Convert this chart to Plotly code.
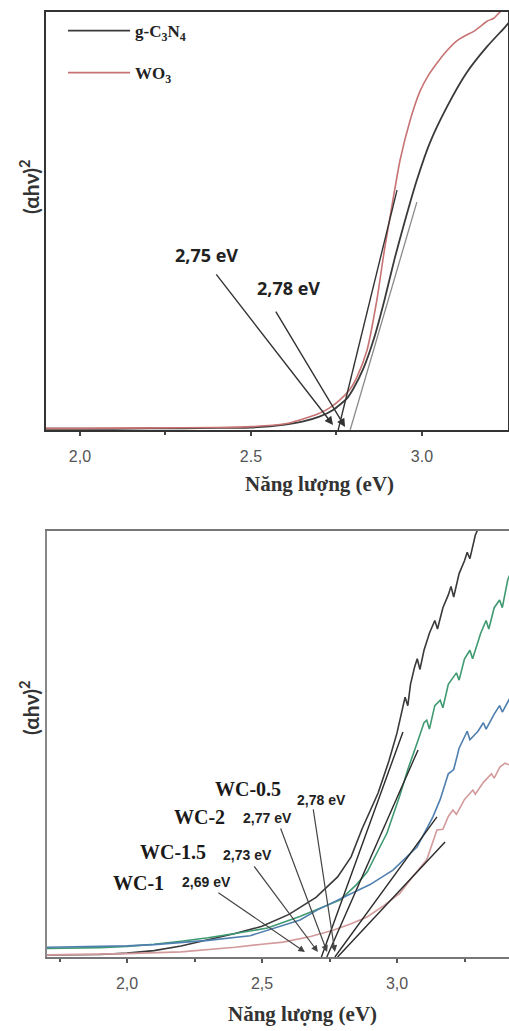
import plotly.graph_objects as go

W, H = 509, 1031

# ---------------- Top panel data ----------------
gcn_E = [1.90, 2.00, 2.10, 2.20, 2.30, 2.40, 2.50, 2.60, 2.65, 2.70, 2.74, 2.78, 2.80, 2.83,
         2.86, 2.89, 2.92, 2.95, 2.985, 3.023, 3.073, 3.13, 3.19, 3.243, 3.26]
gcn_V = [0.003, 0.003, 0.003, 0.004, 0.004, 0.005, 0.006, 0.013, 0.020, 0.032, 0.048, 0.075, 0.10, 0.15,
         0.22, 0.31, 0.41, 0.50, 0.598, 0.687, 0.773, 0.854, 0.917, 0.964, 0.98]

wo3_E = [1.90, 2.00, 2.20, 2.40, 2.50, 2.60, 2.643, 2.70, 2.73, 2.76, 2.79, 2.81, 2.839, 2.868,
         2.89, 2.915, 2.936, 2.965, 2.994, 3.02, 3.044, 3.07, 3.10, 3.13, 3.15, 3.17, 3.19, 3.21, 3.228, 3.25]
wo3_V = [0.004, 0.004, 0.005, 0.006, 0.008, 0.015, 0.024, 0.040, 0.053, 0.072, 0.098, 0.127, 0.19, 0.311,
         0.43, 0.55, 0.646, 0.74, 0.81, 0.85, 0.878, 0.905, 0.93, 0.945, 0.953, 0.965, 0.978, 0.985, 1.0, 1.01]

top_tan_wo3_E = [2.755, 2.927]
top_tan_wo3_V = [0.0, 0.574]
top_tan_gcn_E = [2.79, 2.985]
top_tan_gcn_V = [0.0, 0.545]

top_labels = ["2,75 eV", "2,78 eV"]
top_label_E = [2.371, 2.611]
top_label_V = [0.419, 0.340]
top_arrow_tail_E = [2.395, 2.57]
top_arrow_tail_V = [0.376, 0.287]
top_arrow_head_E = [2.74, 2.775]
top_arrow_head_V = [0.012, 0.007]

top_tickvals = [2.0, 2.5, 3.0]
top_ticktext = ["2,0", "2.5", "3.0"]
top_minor = [2.25, 2.75]

# ---------------- Bottom panel data ----------------
k_E = [1.70, 1.90, 2.00, 2.10, 2.20, 2.30, 2.40, 2.50, 2.60, 2.70, 2.78, 2.83, 2.87, 2.93, 2.97, 3.00,
       3.02, 3.03, 3.04, 3.05, 3.065, 3.075, 3.085, 3.10, 3.12, 3.14, 3.15, 3.17, 3.19, 3.20, 3.21,
       3.23, 3.25, 3.26, 3.27, 3.29, 3.31]
k_V = [0.005, 0.006, 0.009, 0.015, 0.026, 0.040, 0.055, 0.072, 0.100, 0.140, 0.188, 0.235, 0.300, 0.385, 0.460, 0.526,
       0.580, 0.610, 0.590, 0.640, 0.680, 0.700, 0.675, 0.720, 0.760, 0.790, 0.770, 0.820, 0.850, 0.870, 0.845,
       0.900, 0.930, 0.950, 0.935, 0.990, 1.02]

g_E = [1.70, 1.90, 2.00, 2.10, 2.20, 2.30, 2.40, 2.52, 2.64, 2.70, 2.79, 2.85, 2.89, 2.93, 2.963, 3.011,
       3.04, 3.078, 3.10, 3.11, 3.12, 3.14, 3.16, 3.17, 3.19, 3.22, 3.23, 3.25, 3.27, 3.28, 3.31, 3.33,
       3.34, 3.36, 3.38, 3.39, 3.41, 3.42]
g_V = [0.020, 0.022, 0.025, 0.030, 0.037, 0.045, 0.055, 0.068, 0.095, 0.110, 0.134, 0.170, 0.200, 0.250, 0.291, 0.380,
       0.440, 0.509, 0.550, 0.556, 0.535, 0.590, 0.603, 0.585, 0.640, 0.667, 0.650, 0.700, 0.720, 0.700, 0.760, 0.790,
       0.770, 0.820, 0.838, 0.820, 0.885, 0.90]

b_E = [1.70, 1.90, 2.00, 2.10, 2.20, 2.30, 2.456, 2.556, 2.641, 2.704, 2.83, 2.90, 2.985, 3.074, 3.133,
       3.16, 3.19, 3.21, 3.23, 3.26, 3.27, 3.30, 3.32, 3.33, 3.36, 3.38, 3.39, 3.42]
b_V = [0.023, 0.024, 0.026, 0.029, 0.034, 0.039, 0.050, 0.070, 0.087, 0.110, 0.148, 0.170, 0.204, 0.258, 0.329,
       0.370, 0.430, 0.440, 0.490, 0.530, 0.510, 0.530, 0.550, 0.535, 0.570, 0.590, 0.575, 0.61]

p_E = [1.70, 1.90, 2.00, 2.20, 2.30, 2.40, 2.50, 2.578, 2.68, 2.763, 2.83, 2.889, 2.95, 3.011, 3.06, 3.11,
       3.148, 3.17, 3.19, 3.207, 3.22, 3.25, 3.281, 3.29, 3.32, 3.35, 3.36, 3.381, 3.40, 3.42]
p_V = [0.005, 0.006, 0.008, 0.012, 0.017, 0.023, 0.030, 0.035, 0.048, 0.063, 0.078, 0.094, 0.120, 0.150, 0.190, 0.228,
       0.298, 0.300, 0.330, 0.345, 0.335, 0.370, 0.392, 0.382, 0.410, 0.430, 0.420, 0.446, 0.455, 0.45]

bot_tan_E = [[2.72, 3.022], [2.74, 3.078], [2.77, 3.148], [2.78, 3.178]]
bot_tan_V = [[0.0, 0.528], [0.0, 0.486], [0.0, 0.329], [0.0, 0.270]]

sample_names = ["WC-1", "WC-1.5", "WC-2", "WC-0.5"]
sample_E = [2.041, 2.17, 2.27, 2.448]
sample_V = [0.174, 0.246, 0.329, 0.394]
gap_labels = ["2,69 eV", "2,73 eV", "2,77 eV", "2,78 eV"]
gap_E = [2.293, 2.448, 2.522, 2.722]
gap_V = [0.176, 0.239, 0.326, 0.369]
bot_tail_E = [2.333, 2.467, 2.567, 2.689]
bot_tail_V = [0.153, 0.216, 0.305, 0.350]
bot_head_E = [2.659, 2.707, 2.741, 2.77]
bot_head_V = [0.012, 0.012, 0.012, 0.012]

bot_tickvals = [2.0, 2.5, 3.0]
bot_ticktext = ["2,0", "2,5", "3,0"]
bot_minor = [1.75, 2.25, 2.75, 3.25]

SERIF = "Liberation Serif, Times New Roman, serif"
SANS = "Liberation Sans, Arial, sans-serif"

fig = go.Figure()

# top traces
fig.add_trace(go.Scatter(x=gcn_E, y=gcn_V, mode="lines", name="g-C<sub>3</sub>N<sub>4</sub>",
                         line=dict(color="#3a3a3a", width=1.8, shape="spline", smoothing=0.6),
                         xaxis="x", yaxis="y", legendgroup="a"))
fig.add_trace(go.Scatter(x=wo3_E, y=wo3_V, mode="lines", name="WO<sub>3</sub>",
                         line=dict(color="#c87373", width=1.6, shape="spline", smoothing=0.6),
                         xaxis="x", yaxis="y", legendgroup="b"))
fig.add_trace(go.Scatter(x=top_tan_wo3_E, y=top_tan_wo3_V, mode="lines", showlegend=False,
                         line=dict(color="#333333", width=1.4), xaxis="x", yaxis="y"))
fig.add_trace(go.Scatter(x=top_tan_gcn_E, y=top_tan_gcn_V, mode="lines", showlegend=False,
                         line=dict(color="#8a8a8a", width=1.3), xaxis="x", yaxis="y"))

# bottom traces
for xs, ys, col in [(k_E, k_V, "#3a3a3a"), (g_E, g_V, "#3f9a72"), (b_E, b_V, "#4f7fae"), (p_E, p_V, "#d29a9a")]:
    fig.add_trace(go.Scatter(x=xs, y=ys, mode="lines", showlegend=False,
                             line=dict(color=col, width=1.6), xaxis="x2", yaxis="y2"))
for xs, ys in zip(bot_tan_E, bot_tan_V):
    fig.add_trace(go.Scatter(x=xs, y=ys, mode="lines", showlegend=False,
                             line=dict(color="#2a2a2a", width=1.4), xaxis="x2", yaxis="y2"))

ann = []
for t, ex, vy in zip(top_labels, top_label_E, top_label_V):
    ann.append(dict(x=ex, y=vy, xref="x", yref="y", text="<b>" + t + "</b>", showarrow=False,
                    font=dict(family="Open Sans, " + SANS, size=18, color="#222"), xanchor="center", yanchor="middle"))
for tx, ty, hx, hy in zip(top_arrow_tail_E, top_arrow_tail_V, top_arrow_head_E, top_arrow_head_V):
    ann.append(dict(x=hx, y=hy, ax=tx, ay=ty, xref="x", yref="y", axref="x", ayref="y", text="",
                    showarrow=True, arrowhead=2, arrowsize=1.2, arrowwidth=1.4, arrowcolor="#333"))
for t, ex, vy in zip(sample_names, sample_E, sample_V):
    ann.append(dict(x=ex, y=vy, xref="x2", yref="y2", text="<b>" + t + "</b>", showarrow=False,
                    font=dict(family=SERIF, size=20, color="#1a1a1a"), xanchor="center", yanchor="middle"))
for t, ex, vy in zip(gap_labels, gap_E, gap_V):
    ann.append(dict(x=ex, y=vy, xref="x2", yref="y2", text="<b>" + t + "</b>", showarrow=False,
                    font=dict(family="Liberation Sans Narrow, " + SANS, size=14, color="#222"),
                    xanchor="center", yanchor="middle"))
for tx, ty, hx, hy in zip(bot_tail_E, bot_tail_V, bot_head_E, bot_head_V):
    ann.append(dict(x=hx, y=hy, ax=tx, ay=ty, xref="x2", yref="y2", axref="x2", ayref="y2", text="",
                    showarrow=True, arrowhead=2, arrowsize=1.1, arrowwidth=1.2, arrowcolor="#444"))

# axis titles
for yy in [187, 708]:
    ann.append(dict(x=29 / W, y=1 - yy / H, xref="paper", yref="paper", text="<b>(αhν)<sup>2</sup></b>",
                    textangle=-90, showarrow=False, font=dict(family="Lato, " + SANS, size=21, color="#333"),
                    xanchor="center", yanchor="middle"))
for xx, yy in [(319, 484), (302, 1014)]:
    ann.append(dict(x=xx / W, y=1 - yy / H, xref="paper", yref="paper", text="<b>Năng lượng (eV)</b>",
                    showarrow=False, font=dict(family=SERIF, size=21, color="#333"),
                    xanchor="center", yanchor="middle"))

axis_common = dict(showgrid=False, zeroline=False, showline=True, linewidth=2)

fig.update_layout(
    width=W, height=H, autosize=False, margin=dict(l=0, r=0, t=0, b=0),
    paper_bgcolor="white", plot_bgcolor="white",
    xaxis=dict(domain=[46 / W, 508 / W], range=[1.9006, 3.2515], anchor="y", linecolor="#333", mirror=True,
               tickmode="array", tickvals=top_tickvals, ticktext=top_ticktext, ticks="outside", ticklen=4,
               tickwidth=1.5, tickcolor="#444", ticklabelstandoff=7,
               tickfont=dict(family=SANS, size=16, color="#555"),
               minor=dict(tickvals=top_minor, ticks="outside", ticklen=3, tickcolor="#444"), **axis_common),
    yaxis=dict(domain=[1 - 430 / H, 1 - 12 / H], range=[0, 1], anchor="x", linecolor="#333", mirror=True,
               showticklabels=False, ticks="", **axis_common),
    xaxis2=dict(domain=[47 / W, 1.0], range=[1.7037, 3.4148], anchor="y2", linecolor="#777", mirror=True,
                tickmode="array", tickvals=bot_tickvals, ticktext=bot_ticktext, ticks="outside", ticklen=4,
                tickwidth=1.5, tickcolor="#555", ticklabelstandoff=7,
                tickfont=dict(family=SANS, size=16, color="#555"),
                minor=dict(tickvals=bot_minor, ticks="outside", ticklen=3, tickcolor="#555"), **axis_common),
    yaxis2=dict(domain=[1 - 957 / H, 1 - 531 / H], range=[0, 1], anchor="x2", linecolor="#888", mirror=False,
                showticklabels=False, ticks="", **axis_common),
    legend=dict(x=63 / W, y=1 - 13 / H, xanchor="left", yanchor="top", bgcolor="rgba(0,0,0,0)",
                font=dict(family=SERIF, size=17, color="#222", weight="bold"), tracegroupgap=17,
                traceorder="grouped", itemwidth=62),
    annotations=ann,
)

fig.write_html("out.html")
